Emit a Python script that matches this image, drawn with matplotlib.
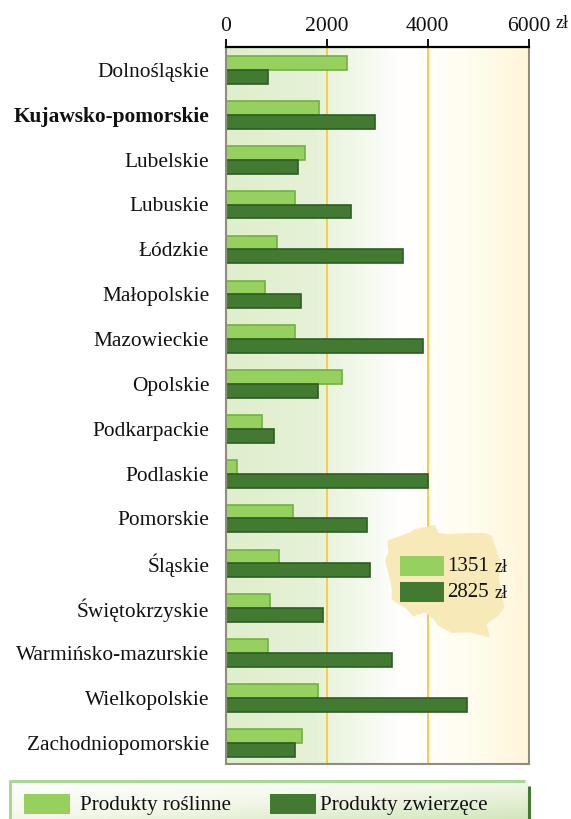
import numpy as np
import matplotlib
matplotlib.use('Agg')
import matplotlib.pyplot as plt
from matplotlib.colors import LinearSegmentedColormap
from matplotlib.patches import Polygon, Rectangle
from matplotlib.transforms import ScaledTranslation

plt.rcParams['font.family'] = ['Liberation Serif', 'DejaVu Serif']

regions = ['Dolnośląskie', 'Kujawsko-pomorskie', 'Lubelskie', 'Lubuskie', 'Łódzkie', 'Małopolskie',
           'Mazowieckie', 'Opolskie', 'Podkarpackie', 'Podlaskie', 'Pomorskie', 'Śląskie',
           'Świętokrzyskie', 'Warmińsko-mazurskie', 'Wielkopolskie', 'Zachodniopomorskie']
plant = [2400, 1835, 1570, 1370, 1010, 780, 1370, 2300, 720, 210, 1320, 1060, 870, 840, 1830, 1510]
animal = [840, 2960, 1430, 2480, 3510, 1490, 3900, 1830, 950, 4010, 2800, 2860, 1920, 3290, 4780, 1370]
xticks = [0, 2000, 4000, 6000]
avg_labels = ['1351', '2825']
legend_labels = ['Produkty roślinne', 'Produkty zwierzęce']
LIGHT, LIGHT_E = '#96d05f', '#72b043'
DARK, DARK_E = '#437a32', '#2f5c26'
INK = '#111111'

W, H = 571, 820
fig = plt.figure(figsize=(W/100, H/100), dpi=100)

L, R, T, B = 226, 528.5, 47.5, 765
ax = fig.add_axes([L/W, 1-B/H, (R-L)/W, (B-T)/H], zorder=1)
ax.set_xlim(0, 6000)

cmap = LinearSegmentedColormap.from_list('bg', [(0, '#dfeecb'), (0.3, '#e6f2d8'), (0.58, '#ffffff'),
                                               (0.8, '#fffdf0'), (1, '#fff6da')])
ax.imshow(np.linspace(0, 1, 256)[None, :], extent=[0, 6000, 16, 0], aspect='auto', cmap=cmap, zorder=0)
ax.set_ylim(16, 0)
for v in xticks[1:3]:
    ax.axvline(v, color='#fbc94a', lw=1.4, zorder=1)

y = np.arange(16)
ax.barh(y + 0.5 - 0.125, plant, height=0.31, color=LIGHT, edgecolor=LIGHT_E, lw=1.2, zorder=2)
ax.barh(y + 0.5 + 0.18, animal, height=0.31, color=DARK, edgecolor=DARK_E, lw=1.2, zorder=2)

ax.set_yticks(y + 0.5)
ax.set_yticklabels(regions, fontsize=15.4, color=INK)
ax.get_yticklabels()[1].set_fontweight('bold')
shift = ScaledTranslation(0, 1/100, fig.dpi_scale_trans)
for t in ax.get_yticklabels():
    t.set_transform(t.get_transform() + shift)
ax.tick_params(axis='y', length=0, pad=12)
ax.xaxis.tick_top()
ax.set_xticks(xticks)
ax.set_xticklabels([str(v) for v in xticks], fontsize=15.6, color=INK)
ax.tick_params(axis='x', length=6, width=1.3, color='black', pad=2)
ax.spines['top'].set_linewidth(1.6); ax.spines['top'].set_color('black')
for s in ['left', 'right', 'bottom']:
    ax.spines[s].set_linewidth(1.5); ax.spines[s].set_color('#928c80')

# Overlay in pixel coordinates
ov = fig.add_axes([0, 0, 1, 1], zorder=2)
ov.patch.set_alpha(0)
ov.text(556, 24, 'zł', fontsize=13, va='center', ha='left', color=INK)
zoom_pts = [(52,95),(120,70),(135,60),(195,48),(205,72),(235,75),(300,72),(345,72),(365,80),(375,110),
            (395,170),(385,205),(395,250),(403,295),(385,320),(350,345),(360,385),(300,370),(245,372),
            (205,350),(190,330),(165,310),(130,322),(110,300),(65,272),(65,240),(55,190),(45,155),(55,130)]
ov.add_patch(Polygon([(370+a/3, 510+b/3) for a, b in zoom_pts], closed=True, fc='#f8e9b9', ec='none'))
for yy, c, lab in zip([557, 583], [LIGHT, DARK], avg_labels):
    ov.add_patch(Rectangle((400, yy), 44, 20, fc=c, ec='none'))
    ov.text(447, yy+10, lab, fontsize=15, va='center', ha='left', color=INK)
    ov.text(508, yy+11, 'zł', fontsize=13, va='center', ha='right', color=INK)

# Bottom legend panel
x0, x1, y0, y1 = 10, 525, 782, 820
g = np.linspace(0, 1, 200)[None, :] + np.linspace(0, 1, 40)[:, None]
cm2 = LinearSegmentedColormap.from_list('p', ['#ffffff', '#f3f8ea', '#d3e6bd'])
ov.imshow(g/2, extent=[x0, x1+3, y1, y0], aspect='auto', cmap=cm2, zorder=0)
ov.set_xlim(0, W); ov.set_ylim(H, 0); ov.axis('off')
ov.plot([x0, x0, x1], [y1, y0, y0], color='#a9d795', lw=2.2, solid_capstyle='butt', zorder=1)
ov.plot([529, 529], [787, 820], color=DARK, lw=2.2, solid_capstyle='butt', zorder=1)
for xx, c, lab, tx in zip([24, 270], [LIGHT, DARK], legend_labels, [80, 320]):
    ov.add_patch(Rectangle((xx, 795), 46, 20, fc=c, ec='none', zorder=2))
    ov.text(tx, 805.5, lab, fontsize=15.2, va='center', ha='left', color=INK, zorder=2)

fig.savefig('out.png', dpi=100)
